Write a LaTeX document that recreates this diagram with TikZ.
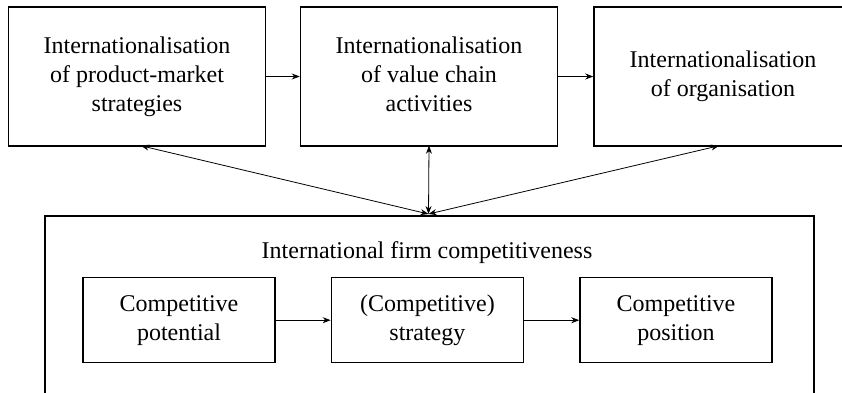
\documentclass[tikz,border=0pt]{standalone}
\usepackage{fontspec}
\setmainfont{Liberation Serif}
\usetikzlibrary{arrows.meta}
\newcommand{\bigtext}{\fontsize{24}{29}\selectfont\rmfamily}
\newcommand{\lines}[1]{\begin{tabular}{@{}c@{}}#1\end{tabular}}
\begin{document}
\begin{tikzpicture}[x=1pt,y=-1pt,
  framebox/.style={draw,line width=1.5pt,rectangle,inner sep=0pt,
    font=\bigtext},
  topbox/.style={framebox,minimum width=257pt,minimum height=139pt},
  innerbox/.style={framebox,minimum width=192pt,minimum height=85pt},
  arr/.style={line width=0.8pt,-{Stealth[length=8pt,width=6pt]}},
  darr/.style={line width=0.8pt,{Stealth[length=8pt,width=6pt]}-{Stealth[length=8pt,width=6pt]}}]
\clip (0,0) rectangle (842,392);
\fill[white] (0,0) rectangle (842,392);
\node[topbox] (b1) at (137,76.5) {\lines{Internationalisation\\of product-market\\strategies}};
\node[topbox] (b2) at (429,76.5) {\lines{Internationalisation\\of value chain\\activities}};
\node[topbox,minimum width=258pt] (b3) at (723,76.5) {\lines{Internationalisation\\of organisation}};
\node[draw,line width=1.5pt,rectangle,minimum width=769pt,minimum height=210pt,inner sep=0pt] (big) at (429.5,321) {};
\node[anchor=base,inner sep=0pt,font=\bigtext] (t) at (427,258) {International firm competitiveness};
\node[innerbox] (c1) at (179,320.2) {\lines{Competitive\\potential}};
\node[innerbox] (c2) at (427.4,320.2) {\lines{(Competitive)\\strategy}};
\node[innerbox] (c3) at (676,320.2) {\lines{Competitive\\position}};
\coordinate (m) at (428.5,214);
\draw[arr] (b1) -- (b2);
\draw[arr] (b2) -- (b3);
\draw[arr] (c1) -- (c2);
\draw[arr] (c2) -- (c3);
\draw[darr] (m) -- ([xshift=4pt,yshift=1pt]b1.south);
\draw[darr] (m) -- ([yshift=1pt]b2.south);
\draw[darr] (m) -- ([xshift=-4pt,yshift=1pt]b3.south);
\end{tikzpicture}
\end{document}
